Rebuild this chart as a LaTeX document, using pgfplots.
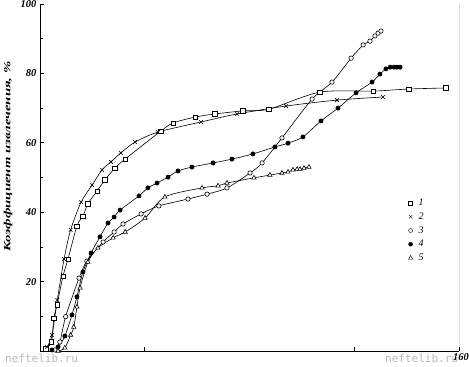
\documentclass[border=0pt]{standalone}
\usepackage{pgfplots}
\pgfplotsset{compat=1.18}
\usepackage{fontspec}
\setmainfont{Liberation Serif}
\newfontfamily\wm{DejaVu Sans Mono}
\begin{document}
\begin{tikzpicture}
\begin{axis}[
 name=ax, at={(0,0)}, anchor=south west,
 width=419pt, height=347pt, scale only axis,
 xmin=0, xmax=160, ymin=0, ymax=100,
 axis x line*=bottom, axis y line*=left,
 axis line style={line width=0.8pt,-},
 xtick={40,120,160}, xticklabels={,,160},
 ytick={20,40,60,80,100}, minor ytick={10,30,50,70,90},
 tick align=inside, major tick length=4pt, minor tick length=3pt,
 tick style={black, line width=0.6pt},
 /pgf/number format/assume math mode=true,
 ticklabel style={font=\bfseries\itshape\fontsize{10.5}{12}\selectfont},
 xticklabel style={xshift=2pt, yshift=1pt},
 ylabel={\scalebox{1.55}[1]{\bfseries\itshape Коэффициент извлечения, \%}},
 ylabel style={at={(axis description cs:-0.076,0.56)}, anchor=center, font=\fontsize{9.5}{11}\selectfont},
 legend style={at={(axis cs:139.5,45)}, anchor=north west, draw=none, fill=none,
   font=\itshape\fontsize{10}{11}\selectfont, row sep=1.6pt,
   /tikz/every odd column/.append style={column sep=4pt}},
 legend cell align=left,
]
\draw[line width=0.8pt] (rel axis cs:1,0) -- (rel axis cs:1,1);
% 1 squares
\addplot[smooth, line width=0.6pt, mark=square*, mark options={fill=white,solid}, mark size=2.2pt, forget plot] coordinates {
(2.2,0.6) (4.4,2.7) (5.3,9.5) (6.5,13.3) (8.8,21.6) (10.7,26.5) (14.1,36.0) (16.4,38.9) (18.3,42.4) (21.8,46.1) (24.8,49.3) (28.6,52.7) (32.5,55.3) (46.2,63.4) (50.8,65.7) (59.2,67.4) (66.8,68.3) (77.5,69.2) (87.4,69.7) (106.9,74.6) (127.2,74.9) (140.9,75.5) (155.0,75.8)};
% 2 crosses
\addplot[smooth, line width=0.6pt, mark=x, mark options={solid}, mark size=2.6pt, forget plot] coordinates {
(2.7,1.2) (4.6,4.6) (6.6,14.7) (9.2,26.5) (11.7,34.9) (15.7,42.9) (19.9,47.8) (23.7,52.2) (27.1,54.5) (30.9,57.1) (36.3,60.2) (45.1,63.1) (61.5,66.0) (75.2,68.3) (94.0,70.6) (113.4,72.3) (131.0,73.2)};
% 3 open circles
\addplot[smooth, line width=0.6pt, mark=*, mark options={fill=white,solid}, mark size=2.2pt, forget plot] coordinates {
(5.7,0.3) (7.6,2.6) (9.8,9.9) (14.9,21.0) (17.9,25.9) (24.1,31.4) (28.3,34.3) (31.7,36.6) (38.6,39.5) (45.4,41.8) (56.5,43.8) (63.8,45.2) (71.4,47.0) (80.2,51.3) (84.8,54.2) (92.4,61.4) (103.9,72.6) (111.5,77.5) (118.8,84.4) (123.4,88.2) (126.0,89.3) (127.9,90.8) (129.1,91.6) (130.2,92.2)};
% 4 filled circles
\addplot[smooth, line width=0.6pt, mark=*, mark options={fill=black,solid}, mark size=2.1pt, forget plot] coordinates {
(4.6,0.3) (6.9,1.2) (9.5,4.3) (12.2,10.4) (14.1,15.6) (16.4,22.8) (19.5,28.2) (22.9,32.9) (26.0,36.9) (28.3,38.6) (30.6,40.6) (37.8,44.7) (41.2,47.0) (44.7,48.4) (48.9,50.1) (52.7,51.9) (58.0,53.0) (66.1,54.2) (73.3,55.3) (81.3,56.8) (89.7,58.8) (94.7,59.9) (100.4,61.7) (107.3,66.3) (113.8,70.0) (120.7,74.4) (126.8,77.5) (129.8,79.8) (132.1,81.3) (133.7,81.8) (135.2,81.8) (136.3,81.8) (137.5,81.8)};
% 5 triangles
\addplot[smooth, line width=0.6pt, mark=triangle*, mark options={fill=white,solid}, mark size=2.5pt, forget plot] coordinates {
(6.9,0) (9.5,0.9) (11.7,4.6) (12.9,6.9) (14.1,12.7) (15.3,18.2) (18.3,25.6) (22.1,29.7) (27.9,32.6) (32.5,34.3) (40.1,38.3) (47.7,44.4) (61.9,47.0) (68.0,47.6) (71.4,48.4) (81.7,49.9) (87.8,50.7) (92.4,51.3) (94.7,51.6) (96.6,52.2) (98.2,52.4) (99.3,52.4) (100.8,52.7) (102.7,53.0)};
\addlegendimage{only marks, mark=square*, mark options={fill=white}, mark size=2pt}
\addlegendentry{1}
\addlegendimage{only marks, mark=x, mark size=2.4pt}
\addlegendentry{2}
\addlegendimage{only marks, mark=*, mark options={fill=white}, mark size=2pt}
\addlegendentry{3}
\addlegendimage{only marks, mark=*, mark options={fill=black}, mark size=2pt}
\addlegendentry{4}
\addlegendimage{only marks, mark=triangle*, mark options={fill=white}, mark size=2.4pt}
\addlegendentry{5}
\end{axis}
\node[anchor=west, text=gray!55, font=\wm\fontsize{11}{13}\selectfont, inner sep=0pt] at ([xshift=-35pt,yshift=-7pt]ax.south west) {neftelib.ru};
\node[anchor=west, text=gray!55, font=\wm\fontsize{11}{13}\selectfont, inner sep=0pt] at ([xshift=-74pt,yshift=-7pt]ax.south east) {neftelib.ru};
\pgfresetboundingbox
\path[use as bounding box] ([xshift=-40pt,yshift=-16pt]ax.south west) rectangle ([xshift=10pt,yshift=4pt]ax.north east);
\end{tikzpicture}
\end{document}
